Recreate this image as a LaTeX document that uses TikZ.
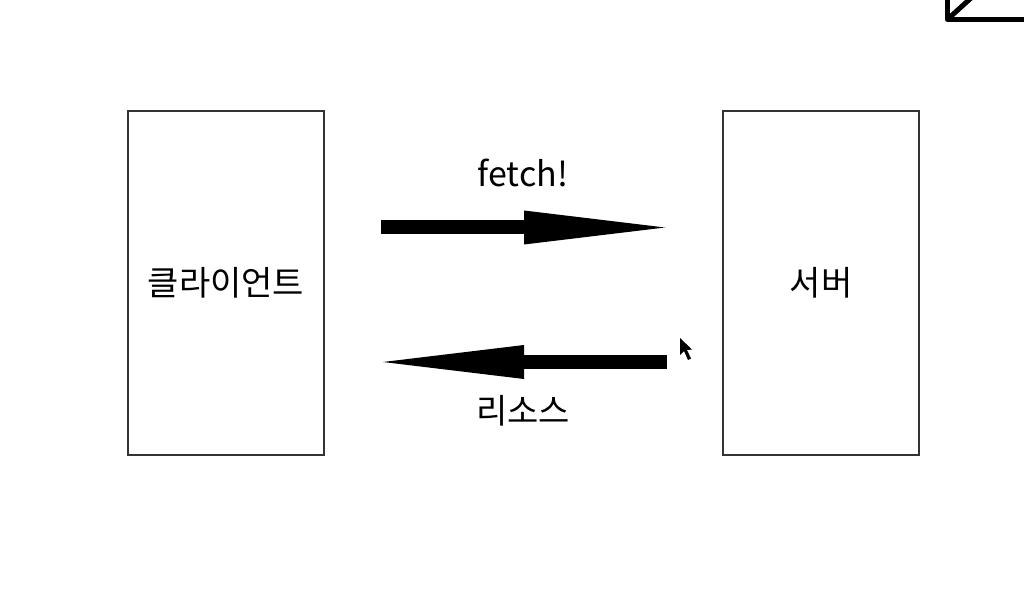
\documentclass[tikz,border=0pt]{standalone}
\usepackage{fontspec}
\setmainfont{Noto Sans CJK KR}
\usetikzlibrary{arrows.meta}
\begin{document}
\begin{tikzpicture}[x=1pt,y=-1pt]
\tikzset{kasten/.style={draw=black!80, line width=1.2pt, minimum width=196pt, minimum height=344pt, inner sep=0pt, font=\fontsize{34}{40}\selectfont},
  schrift/.style={font=\fontsize{34}{40}\selectfont, inner sep=0pt},
  pfeil/.style={line width=14pt, -{Triangle[length=141pt, width=34pt, line width=0pt]}}}
\useasboundingbox (0,0) rectangle (1024,601);
\node[kasten] at (226,283) (client) {클라이언트};
\node[kasten] at (821,283) (server) {서버};
\coordinate (f1) at (381,227.5);
\coordinate (f2) at (665,227.5);
\coordinate (r1) at (667,362);
\coordinate (r2) at (383,362);
			\draw [pfeil] (f1) -- (f2);
			\draw [pfeil] (r1) -- (r2);
\node[schrift] at (523,173) (fetch) {fetch!};
\node[schrift] at (523,411) (ressource) {리소스};

			% cursor and the corner mark
			\fill (680,338) -- (680,355) -- (684,351) -- (688,360) -- (691,358.5) -- (687,350) -- (692,349.5) -- cycle;
			\draw [line width=5pt, line join=round] (947.5,0) -- (947.5,19.5) -- (1024,19.5);
			\draw [line width=5pt] (949,18) -- (971,-2);
		\end{tikzpicture}
\end{document}
